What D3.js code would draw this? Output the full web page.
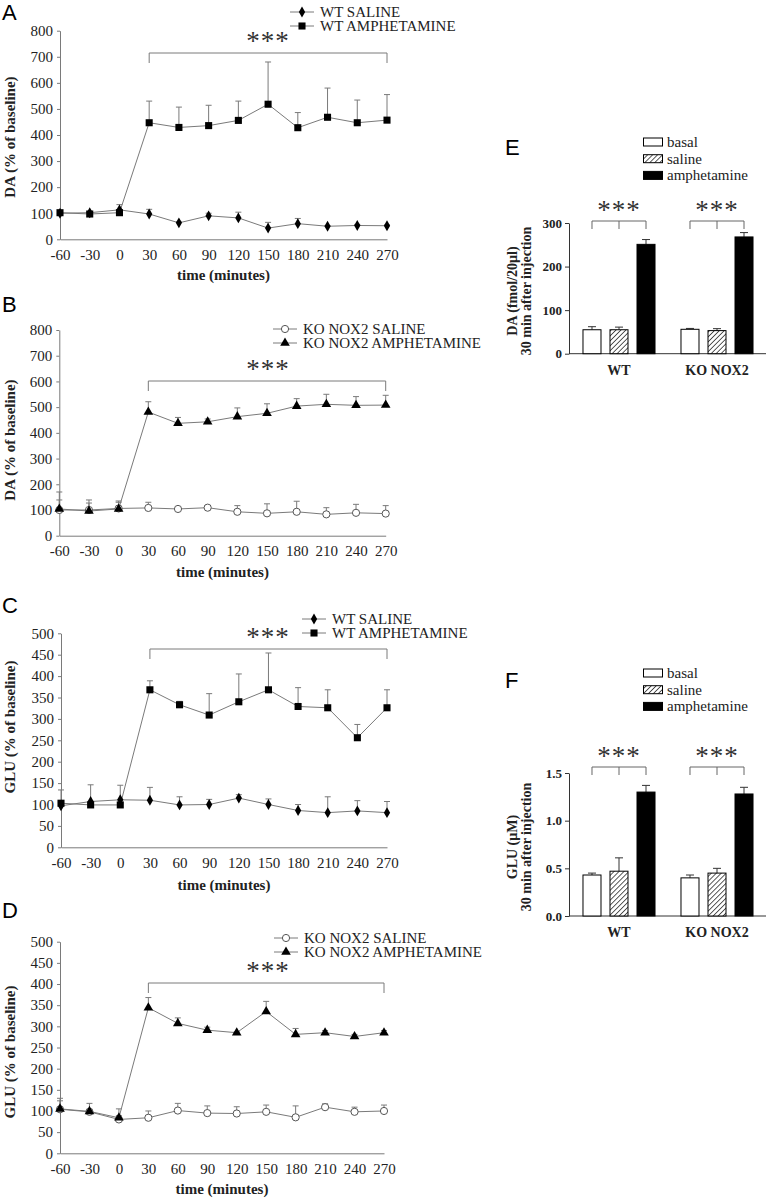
<!DOCTYPE html>
<html><head><meta charset="utf-8">
<script src="https://cdn.jsdelivr.net/npm/d3@7"></script>
<style>body{margin:0;background:#fff}svg{display:block}svg text{font-family:'Liberation Serif','Times New Roman',serif}</style>
</head><body>
<script>
// ---------- DATA ----------
const times = [-60,-30,0,30,60,90,120,150,180,210,240,270];

// Panel A: DA, WT
const wtSalineDA      = [100,102,113,97,63,90,82,43,60,50,53,52];
const wtSalineDAErr   = [3,4,20,18,3,10,22,22,20,3,4,3];
const wtAmphDA        = [102,97,102,447,429,436,456,518,428,468,447,457];
const wtAmphDAErr     = [3,5,5,83,78,78,74,162,58,112,87,98];
// Panel B: DA, KO NOX2
const koSalineDA      = [100,100,106,108,104,109,93,87,93,83,89,86];
const koSalineDAErr   = [39,39,29,22,5,8,24,37,41,26,33,31];
const koAmphDA        = [104,96,104,481,437,443,463,476,504,511,507,508];
const koAmphDAErr     = [66,31,26,40,23,11,34,37,29,39,34,38];
// Panel C: GLU, WT
const wtSalineGLU     = [97,107,111,110,99,100,115,100,86,81,85,81];
const wtSalineGLUErr  = [37,39,34,30,19,12,8,13,14,37,24,26];
const wtAmphGLU       = [103,99,99,368,333,309,340,368,329,326,256,326];
const wtAmphGLUErr    = [5,5,5,21,8,50,65,86,44,42,31,42];
// Panel D: GLU, KO NOX2
const koSalineGLU     = [104,98,80,84,101,95,94,98,85,109,98,100];
const koSalineGLUErr  = [26,20,25,16,17,17,16,16,27,8,11,14];
const koAmphGLU       = [105,99,84,344,307,291,285,335,281,285,276,285];
const koAmphGLUErr    = [19,5,5,24,13,7,2,24,14,5,5,5];

const daTicks  = [0,100,200,300,400,500,600,700,800];
const gluTicks = [0,50,100,150,200,250,300,350,400,450,500];

// Panels E/F
const groups     = ["WT","KO NOX2"];
const conditions = ["basal","saline","amphetamine"];
const daBarWT    = [55,55,251];
const daBarWTErr = [7,6,11];
const daBarKO    = [56,53,268];
const daBarKOErr = [2,4.5,10];
const gluBarWT    = [0.43,0.47,1.30];
const gluBarWTErr = [0.02,0.14,0.07];
const gluBarKO    = [0.40,0.45,1.28];
const gluBarKOErr = [0.03,0.05,0.07];
const daBarTicks  = [0,100,200,300];
const gluBarTicks = [0,0.5,1.0,1.5];

// ---------- DRAW ----------
const W = 771, H = 1199;
const svg = d3.select("body").append("svg").attr("width", W).attr("height", H);
const SERIF = "'Liberation Serif','Times New Roman',serif";
const SANS = "'Liberation Sans',Arial,sans-serif";
const TXT = "#222", GRAY = "#7a7a7a";

const defs = svg.append("defs");
const pat = defs.append("pattern").attr("id","hatch").attr("patternUnits","userSpaceOnUse")
  .attr("width",3.5).attr("height",3.5).attr("patternTransform","rotate(45)");
pat.append("rect").attr("width",3.5).attr("height",3.5).attr("fill","#fff");
pat.append("line").attr("x1",0).attr("y1",0).attr("x2",0).attr("y2",3.5).attr("stroke","#333").attr("stroke-width",1.6);

function marker(g, type, x, y) {
  if (type === "circle") {
    g.append("circle").attr("cx",x).attr("cy",y).attr("r",3.6).attr("fill","#fff").attr("stroke","#555").attr("stroke-width",1);
  } else {
    const sym = type === "square" ? d3.symbolSquare : type === "diamond" ? d3.symbolDiamond : d3.symbolTriangle;
    const size = type === "square" ? 50 : type === "diamond" ? 34 : 40;
    g.append("path").attr("d", d3.symbol().type(sym).size(size)()).attr("transform",`translate(${x},${y})`).attr("fill","#000");
  }
}

function letter(g, x, y, t) {
  g.append("text").attr("x",x).attr("y",y).text(t)
    .style("font-family",SANS).attr("font-size",22).attr("fill","#000");
}

function linePanel(c) {
  const g = svg.append("g");
  const x = d3.scaleLinear().domain([-60,270]).range([c.x0, c.x1]);
  const y = d3.scaleLinear().domain([0, c.ymax]).range([c.yBot, c.yTop]);
  letter(g, c.letterX, c.letterY, c.letter);
  const ya = g.append("g").attr("transform",`translate(${c.x0},0)`)
    .call(d3.axisLeft(y).tickValues(c.ticks).tickFormat(d => String(d)).tickSize(3).tickSizeOuter(0).tickPadding(4));
  const xa = g.append("g").attr("transform",`translate(0,${c.yBot})`)
    .call(d3.axisBottom(x).tickValues(times).tickFormat(d => String(d)).tickSize(0).tickSizeOuter(0).tickPadding(10));
  [ya, xa].forEach(a => {
    a.attr("font-family",SERIF);
    a.selectAll("path,line").attr("stroke",GRAY);
    a.selectAll("text").style("font-family",SERIF).attr("font-size",15).attr("fill",TXT);
  });
  g.append("text").attr("x",(c.x0+c.x1)/2).attr("y",c.xTitleY).attr("text-anchor","middle")
    .attr("font-weight","bold").attr("font-size",15).attr("fill",TXT).text("time (minutes)");
  g.append("text").attr("transform",`translate(15,${c.yTitleC}) rotate(-90)`).attr("text-anchor","middle")
    .attr("font-weight","bold").attr("font-size",15).attr("fill",TXT).text(c.yTitle);
  const bx0 = x(30), bx1 = x(270);
  g.append("path").attr("d",`M${bx0},${c.brY+10}V${c.brY}H${bx1}V${c.brY+10}`)
    .attr("fill","none").attr("stroke",GRAY).attr("stroke-width",1);
  g.append("text").attr("x",c.starX).attr("y",c.starY).attr("text-anchor","middle")
    .attr("font-size",27).attr("fill","#333").attr("letter-spacing",1).text("***");
  c.series.forEach(s => {
    const pts = times.map((t,i)=>({t, v:s.values[i], e:s.errs[i]}));
    pts.forEach(p => {
      const px = x(p.t), py = y(p.v), pe = y(p.v + p.e);
      g.append("path").attr("d",`M${px},${py}V${pe}M${px-3},${pe}H${px+3}`)
        .attr("stroke",GRAY).attr("stroke-width",1).attr("fill","none");
    });
    g.append("path").datum(pts).attr("d", d3.line().x(p=>x(p.t)).y(p=>y(p.v)))
      .attr("fill","none").attr("stroke",GRAY).attr("stroke-width",1);
  });
  c.series.forEach(s => {
    times.forEach((t,i) => marker(g, s.marker, x(t), y(s.values[i])));
  });
  c.series.forEach((s,i) => {
    const ly = c.legY + i*14;
    g.append("line").attr("x1",c.legX).attr("x2",c.legX+24).attr("y1",ly).attr("y2",ly).attr("stroke",GRAY);
    marker(g, s.marker, c.legX+12, ly);
    g.append("text").attr("x",c.legX+30).attr("y",ly+5).attr("font-size",15)
      .attr("fill",TXT).text(s.name);
  });
}

linePanel({letter:"A", letterX:2, letterY:20, x0:60, x1:387, yTop:30.7, yBot:239.3, ymax:800, ticks:daTicks,
  xTitleY:280, yTitle:"DA (% of baseline)", yTitleC:137, brY:53, starX:268, starY:50, legX:290, legY:12,
  series:[{name:"WT SALINE", values:wtSalineDA, errs:wtSalineDAErr, marker:"diamond"},
          {name:"WT AMPHETAMINE", values:wtAmphDA, errs:wtAmphDAErr, marker:"square"}]});

linePanel({letter:"B", letterX:2, letterY:312, x0:59.3, x1:385.7, yTop:330, yBot:535.7, ymax:800, ticks:daTicks,
  xTitleY:577, yTitle:"DA (% of baseline)", yTitleC:440, brY:381, starX:268, starY:378, legX:273, legY:329,
  series:[{name:"KO NOX2 SALINE", values:koSalineDA, errs:koSalineDAErr, marker:"circle"},
          {name:"KO NOX2 AMPHETAMINE", values:koAmphDA, errs:koAmphDAErr, marker:"triangle"}]});

linePanel({letter:"C", letterX:2, letterY:613, x0:61, x1:387, yTop:633.3, yBot:847.3, ymax:500, ticks:gluTicks,
  xTitleY:890, yTitle:"GLU (% of baseline)", yTitleC:727, brY:649, starX:268, starY:646, legX:302, legY:619,
  series:[{name:"WT SALINE", values:wtSalineGLU, errs:wtSalineGLUErr, marker:"diamond"},
          {name:"WT AMPHETAMINE", values:wtAmphGLU, errs:wtAmphGLUErr, marker:"square"}]});

linePanel({letter:"D", letterX:2, letterY:918, x0:60, x1:384, yTop:941.7, yBot:1153.3, ymax:500, ticks:gluTicks,
  xTitleY:1194, yTitle:"GLU (% of baseline)", yTitleC:1052, brY:983, starX:268, starY:980, legX:274, legY:938,
  series:[{name:"KO NOX2 SALINE", values:koSalineGLU, errs:koSalineGLUErr, marker:"circle"},
          {name:"KO NOX2 AMPHETAMINE", values:koAmphGLU, errs:koAmphGLUErr, marker:"triangle"}]});

function barPanel(c) {
  const g = svg.append("g");
  const y = d3.scaleLinear().domain([0, c.ymax]).range([c.yBot, c.yTop]);
  const xg = d3.scaleBand().domain(groups).range([570, 766]).paddingInner(0.265).paddingOuter(0.1325);
  const xc = d3.scaleBand().domain(conditions).range([0, xg.bandwidth()]).paddingInner(1/3).paddingOuter(0);
  letter(g, 505, c.letterY, c.letter);
  const fills = {basal:"#fff", saline:"url(#hatch)", amphetamine:"#000"};
  conditions.forEach((k,i) => {
    const ly = c.legY + i*16.7;
    g.append("rect").attr("x",643.5).attr("y",ly-4).attr("width",19).attr("height",8)
      .attr("fill",fills[k]).attr("stroke","#000").attr("stroke-width",1);
    g.append("text").attr("x",667).attr("y",ly+5).attr("font-size",15).attr("fill",TXT).text(k);
  });
  const ya = g.append("g").attr("transform",`translate(569,0)`)
    .call(d3.axisLeft(y).tickValues(c.ticks).tickFormat(c.fmt).tickSize(4).tickSizeOuter(0).tickPadding(3));
  ya.attr("font-family",SERIF);
  ya.selectAll("path,line").attr("stroke","#333");
  ya.selectAll("text").style("font-family",SERIF).attr("font-weight","bold").attr("font-size",13).attr("fill",TXT);
  g.append("line").attr("x1",569).attr("x2",766).attr("y1",c.yBot).attr("y2",c.yBot).attr("stroke","#333");
  c.yTitle.forEach((t,i) => {
    g.append("text").attr("transform",`translate(${517 + i*14},${c.yTitleC}) rotate(-90)`).attr("text-anchor","middle")
      .attr("font-weight","bold").attr("font-size",14).attr("fill",TXT).text(t);
  });
  groups.forEach((grp,gi) => {
    const vals = c.values[gi], errs = c.errs[gi];
    conditions.forEach((k,ci) => {
      const bx = xg(grp) + xc(k), bw = xc.bandwidth();
      const cx = bx + bw/2, top = y(vals[ci]), et = y(vals[ci] + errs[ci]);
      g.append("path").attr("d",`M${cx},${top}V${et}M${cx-4},${et}H${cx+4}`).attr("stroke","#333").attr("fill","none");
      g.append("rect").attr("x",bx).attr("y",top).attr("width",bw).attr("height",c.yBot-top)
        .attr("fill",fills[k]).attr("stroke","#000").attr("stroke-width",1);
    });
    g.append("text").attr("x",xg(grp)+xg.bandwidth()/2).attr("y",c.yBot+21).attr("text-anchor","middle")
      .attr("font-weight","bold").attr("font-size",14).attr("fill",TXT).text(grp);
    const c0 = xg(grp)+xc("basal")+xc.bandwidth()/2, c1 = xg(grp)+xc("saline")+xc.bandwidth()/2,
          c2 = xg(grp)+xc("amphetamine")+xc.bandwidth()/2;
    g.append("path").attr("d",`M${c0},${c.brY+8}V${c.brY}H${c2}V${c.brY+8}M${c1},${c.brY}V${c.brY+8}`)
      .attr("fill","none").attr("stroke","#666");
    g.append("text").attr("x",c1).attr("y",c.brY-2).attr("text-anchor","middle")
      .attr("font-size",27).attr("fill","#333").attr("letter-spacing",1).text("***");
  });
}

barPanel({letter:"E", letterY:155, legY:142, yTop:223, yBot:353.7, ymax:300, ticks:daBarTicks, fmt:d3.format("d"),
  yTitle:["DA (fmol/20µl)","30 min after injection"], yTitleC:291, brY:221,
  values:[daBarWT, daBarKO], errs:[daBarWTErr, daBarKOErr]});

barPanel({letter:"F", letterY:688, legY:673, yTop:773, yBot:916, ymax:1.5, ticks:gluBarTicks, fmt:d3.format(".1f"),
  yTitle:["GLU (µM)","30 min after injection"], yTitleC:847, brY:767,
  values:[gluBarWT, gluBarKO], errs:[gluBarWTErr, gluBarKOErr]});
</script>
</body></html>
